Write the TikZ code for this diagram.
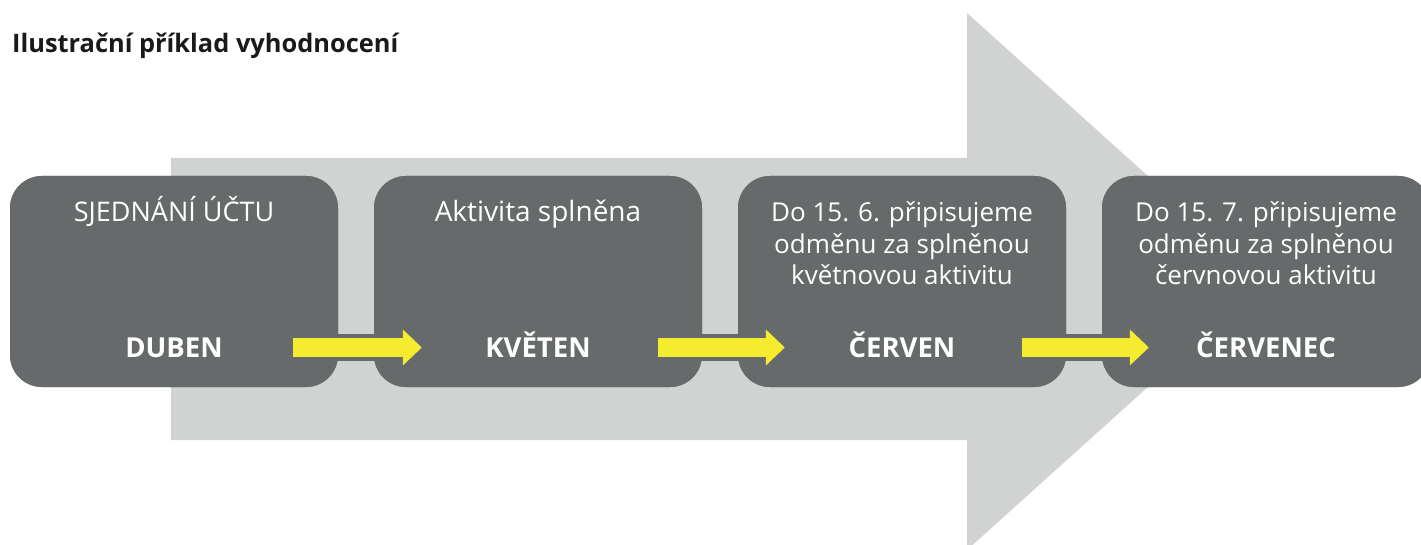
\documentclass[tikz,border=0pt]{standalone}
\usepackage{fontspec}
\setmainfont{Open Sans}
\usetikzlibrary{arrows.meta,calc}
\definecolor{boxgray}{HTML}{676A6B}
\definecolor{lightgray}{HTML}{D1D3D2}
\definecolor{ingyellow}{HTML}{F5EB2F}
\definecolor{titleblack}{HTML}{1A1A1A}
\tikzset{
  stagebox/.style={rectangle, fill=boxgray, minimum width=328pt, minimum height=211pt, rounded corners=32pt, inner sep=0pt},
  toptext/.style={text=white, font=\fontsize{27}{31.5}\selectfont, align=center, inner sep=0pt, anchor=base},
  monthtext/.style={text=white, font=\bfseries\fontsize{27.5}{31.5}\selectfont, inner sep=0pt, anchor=base},
  band/.style={draw=boxgray, line width=27pt},
  yarrow/.style={draw=ingyellow, line width=19pt, -{Triangle[length=19pt,width=35pt]}},
}
\begin{document}
\begin{tikzpicture}[x=1pt,y=-1pt]
\useasboundingbox (0,0) rectangle (1421,545);
\clip (0,0) rectangle (1421,545);
% big background arrow
\fill[lightgray] (171,158) -- (967,158) -- (967,13) -- (1265,281.5) -- (967,550) -- (967,440) -- (171,440) -- cycle;
% stage boxes
\node[stagebox] (b1) at (174,281.5) {};
\node[stagebox] (b2) at (538,281.5) {};
\node[stagebox] (b3) at (902,281.5) {};
\node[stagebox] (b4) at (1266,281.5) {};
% dark band joining the boxes
\coordinate (l1) at ($(b1.east)+(-5,66)$);
\coordinate (l4) at ($(b4.west)+(5,66)$);
\draw[band] (l1) -- (l4);
\node[stagebox] at (b1) {};
\node[stagebox] at (b2) {};
\node[stagebox] at (b3) {};
\node[stagebox] at (b4) {};
% title
\node[text=titleblack, font=\bfseries\fontsize{25.4}{30}\selectfont, anchor=base west, inner sep=0pt] (title) at (12,53) {Ilustrační příklad vyhodnocení};
% top texts
\node[toptext] (t1) at ($(b1.north)+(0,46)$) {SJEDNÁNÍ ÚČTU};
\node[toptext, font=\fontsize{28}{31.5}\selectfont] (t2) at ($(b2.north)+(0,46)$) {Aktivita splněna};
\node[toptext, font=\fontsize{26}{31.5}\selectfont] (t3) at ($(b3.north)+(0,109)$) {Do 15. 6. připisujeme\\odměnu za splněnou\\květnovou aktivitu};
\node[toptext, font=\fontsize{26}{31.5}\selectfont] (t4) at ($(b4.north)+(0,109)$) {Do 15. 7. připisujeme\\odměnu za splněnou\\červnovou aktivitu};
% month labels
\node[monthtext] (m1) at ($(b1.south)+(0,-30)$) {DUBEN};
\node[monthtext] (m2) at ($(b2.south)+(0,-30)$) {KVĚTEN};
\node[monthtext] (m3) at ($(b3.south)+(0,-30)$) {ČERVEN};
\node[monthtext] (m4) at ($(b4.south)+(0,-30)$) {ČERVENEC};
% yellow arrows
\coordinate (a1s) at ($(b1.east)+(-45,66)$);
\coordinate (a1e) at ($(b2.west)+(48,66)$);
\coordinate (a2s) at ($(b2.east)+(-44,66)$);
\coordinate (a2e) at ($(b3.west)+(47,66)$);
\coordinate (a3s) at ($(b3.east)+(-44,66)$);
\coordinate (a3e) at ($(b4.west)+(47,66)$);
\draw[yarrow] (a1s) -- (a1e);
\draw[yarrow] (a2s) -- (a2e);
\draw[yarrow] (a3s) -- (a3e);
\end{tikzpicture}
\end{document}
